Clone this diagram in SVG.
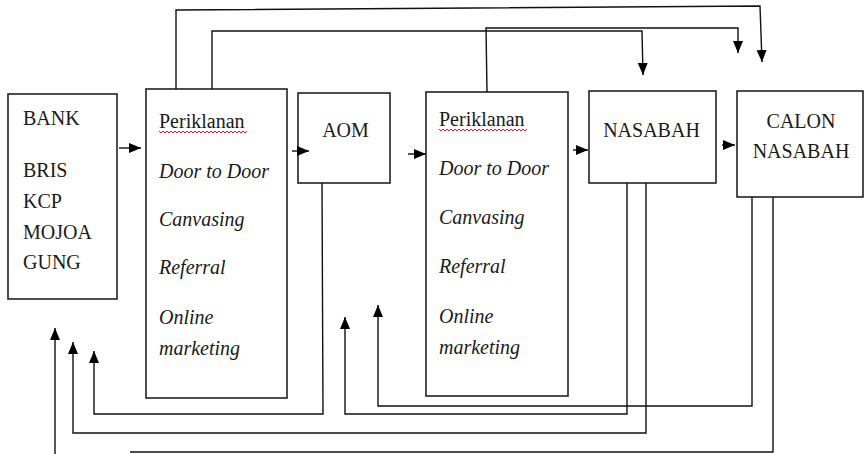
<svg xmlns="http://www.w3.org/2000/svg" width="865" height="454" viewBox="0 0 865 454">
<style>
.box{fill:#fff;stroke:#222;stroke-width:1.6}
.t{font-family:"Liberation Serif","Times New Roman",serif;font-size:20px;fill:#1a1a1a}
.i{font-style:italic}
.c{fill:none;stroke:#111;stroke-width:1.4}
.w{fill:none;stroke:#e02020;stroke-width:1}
</style>
<defs>
<marker id="ah" markerUnits="userSpaceOnUse" markerWidth="13" markerHeight="11" refX="12" refY="5" orient="auto">
<path d="M0,0 L12,5 L0,10 z" fill="#000"/>
</marker>
</defs>
<rect width="865" height="454" fill="#fff"/>
<g id="bank">
<rect class="box" x="8" y="94" width="109" height="205"/>
<text class="t" x="23" y="125">BANK</text>
<text class="t" x="23" y="177">BRIS</text>
<text class="t" x="23" y="208">KCP</text>
<text class="t" x="23" y="239">MOJOA</text>
<text class="t" x="23" y="269">GUNG</text>
</g>
<g id="periklanan1">
<rect class="box" x="146" y="89" width="141" height="309"/>
<text class="t" x="159" y="128">Periklanan</text>
<path class="w" d="M159,131 l2,2 l2,-2 l2,2 l2,-2 l2,2 l2,-2 l2,2 l2,-2 l2,2 l2,-2 l2,2 l2,-2 l2,2 l2,-2 l2,2 l2,-2 l2,2 l2,-2 l2,2 l2,-2 l2,2 l2,-2 l2,2 l2,-2 l2,2 l2,-2 l2,2 l2,-2 l2,2 l2,-2 l2,2 l2,-2 l2,2 l2,-2 l2,2 l2,-2 l2,2 l2,-2 l2,2 l2,-2 l2,2 l2,-2 l2,2 l2,-2"/>
<text class="t i" x="159" y="178">Door to Door</text>
<text class="t i" x="159" y="226">Canvasing</text>
<text class="t i" x="159" y="274">Referral</text>
<text class="t i" x="159" y="324">Online</text>
<text class="t i" x="159" y="355">marketing</text>
</g>
<g id="aom">
<rect class="box" x="298" y="93" width="92" height="90"/>
<text class="t" x="345.5" y="137" text-anchor="middle">AOM</text>
</g>
<g id="periklanan2">
<rect class="box" x="426" y="92" width="142" height="304"/>
<text class="t" x="439" y="126">Periklanan</text>
<path class="w" d="M439,129 l2,2 l2,-2 l2,2 l2,-2 l2,2 l2,-2 l2,2 l2,-2 l2,2 l2,-2 l2,2 l2,-2 l2,2 l2,-2 l2,2 l2,-2 l2,2 l2,-2 l2,2 l2,-2 l2,2 l2,-2 l2,2 l2,-2 l2,2 l2,-2 l2,2 l2,-2 l2,2 l2,-2 l2,2 l2,-2 l2,2 l2,-2 l2,2 l2,-2 l2,2 l2,-2 l2,2 l2,-2 l2,2 l2,-2 l2,2 l2,-2"/>
<text class="t i" x="439" y="175">Door to Door</text>
<text class="t i" x="439" y="224">Canvasing</text>
<text class="t i" x="439" y="273">Referral</text>
<text class="t i" x="439" y="323">Online</text>
<text class="t i" x="439" y="354">marketing</text>
</g>
<g id="nasabah">
<rect class="box" x="589" y="91" width="127" height="92"/>
<text class="t" x="651.5" y="137" text-anchor="middle">NASABAH</text>
</g>
<g id="calon-nasabah">
<rect class="box" x="737" y="91" width="126" height="106"/>
<text class="t" x="801" y="128" text-anchor="middle">CALON</text>
<text class="t" x="801" y="158" text-anchor="middle">NASABAH</text>
</g>
<g id="connectors">
<path class="c" d="M176,89 V10 L760,6 L762,62" marker-end="url(#ah)"/>
<path class="c" d="M212,89 V31 H642 L643,75" marker-end="url(#ah)"/>
<path class="c" d="M487,92 L486,28 H738 V53" marker-end="url(#ah)"/>
<path class="c" d="M119,148 H141" marker-end="url(#ah)"/>
<path class="c" d="M292,151 H309" marker-end="url(#ah)"/>
<path class="c" d="M408,154 H426" marker-end="url(#ah)"/>
<path class="c" d="M573,150 H588" marker-end="url(#ah)"/>
<path class="c" d="M722,145 H735" marker-end="url(#ah)"/>
<path class="c" d="M322,183 L323,414 H94 V351" marker-end="url(#ah)"/>
<path class="c" d="M627,183 V414 H345 V317" marker-end="url(#ah)"/>
<path class="c" d="M646,183 V433 H73 V342" marker-end="url(#ah)"/>
<path class="c" d="M752,197 V406 H378 V305" marker-end="url(#ah)"/>
<path class="c" d="M773,197 V452 H130"/>
<path class="c" d="M55,454 V328" marker-end="url(#ah)"/>
</g>
</svg>
